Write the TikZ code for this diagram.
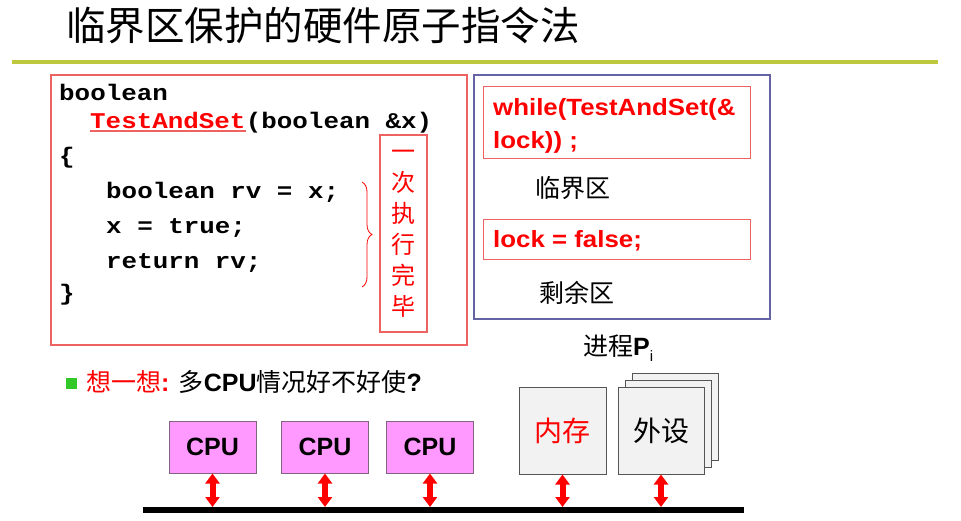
\documentclass[tikz,border=0pt]{standalone}
\usepackage{fontspec}
\setmainfont{Liberation Sans}
\newfontfamily\cjk{Noto Sans CJK SC}
\newfontfamily\codefont{Liberation Mono}[FakeStretch=1.15]
\newfontfamily\widefont{Liberation Sans}[FakeStretch=1.1]
\usepackage{tikz}
\usetikzlibrary{positioning}
\usetikzlibrary{arrows.meta}
\usetikzlibrary{decorations.pathreplacing}
\definecolor{framered}{RGB}{238,98,98}
\definecolor{frameblue}{RGB}{100,100,165}
\definecolor{rulegreen}{RGB}{190,200,62}
\definecolor{bulletgreen}{RGB}{50,200,40}
\definecolor{cpupink}{RGB}{255,153,255}
\definecolor{cpuedge}{RGB}{128,100,128}
\definecolor{memfill}{RGB}{242,242,242}
\definecolor{memedge}{RGB}{85,85,85}

\begin{document}
\begin{tikzpicture}[x=1pt, y=-1pt,
		codeline/.style={anchor=base west, inner sep=0, font=\codefont\bfseries\fontsize{22.5}{24}\selectfont},
		redcode/.style={anchor=base west, inner sep=0, text=red, font=\widefont\bfseries\fontsize{23.5}{24}\selectfont},
		redframe/.style={draw=framered, line width=1.2pt},
		zonetext/.style={inner sep=0, font=\cjk\fontsize{25}{25}\selectfont},
		cpubox/.style={draw=cpuedge, fill=cpupink, line width=1pt, minimum width=87pt, minimum height=52pt, inner sep=0, font=\bfseries\fontsize{25}{25}\selectfont},
		membox/.style={draw=memedge, fill=memfill, line width=1pt, minimum width=87pt, minimum height=87pt, inner sep=0, font=\cjk\fontsize{28}{28}\selectfont},
		busarrow/.style={draw=red, line width=6pt, shorten >=3pt, {Triangle[width=14pt,length=10pt,fill=red]}-{Triangle[width=14pt,length=10pt,fill=red]}}]
	\path[use as bounding box, fill=white] (0,0) rectangle (961,520);
	% title
	\node[anchor=base west, inner sep=0, font=\cjk\fontsize{39.5}{40}\selectfont] (title) at (66,40) {临界区保护的硬件原子指令法};
	\draw[rulegreen, line width=4pt] (12,62) -- (938,62);
	% TestAndSet
	\draw[redframe] (51,75) rectangle (467,345);
	\node[codeline] (codeA) at (59,100) {boolean};
	\node[codeline, text=red] (tas) at (90,128) {TestAndSet};
	\node[codeline] (tasArgs) at (tas.base east) {(boolean \&x)};
	\draw[framered, line width=1.3pt] ([yshift=-3pt]tas.base west) -- ([yshift=-3pt]tas.base east);
	\node[codeline] (codeB) at (59,163) {\{};
	\node[codeline] (codeC) at (106,198) {boolean rv = x;};
	\node[codeline] (codeD) at (106,233) {x = true;};
	\node[codeline] (codeE) at (106,268) {return rv;};
	\node[codeline] (codeF) at (59,300) {\}};
	\draw[red, line width=0.8pt, decorate, decoration={brace, amplitude=10pt}] (362,182) -- (362,287);
	\node[redframe, text=red, minimum width=47pt, minimum height=197pt, inner sep=0, align=center, font=\cjk\fontsize{24}{31}\selectfont] (once) at (403.5,233.5) {一\\次\\执\\行\\完\\毕};
	% process Pi
	\draw[frameblue, line width=1.2pt] (474,75) rectangle (770,319);
	\node[redframe, anchor=north west, minimum width=267pt, minimum height=72pt] (whilebox) at (483,86) {};
	\node[redcode] (whileA) at (493,115) {while(TestAndSet(\&};
	\node[redcode] (whileB) at (493,148) {lock)) ;};
	\node[zonetext] (critical) at (572.5,188) {临界区};
	\node[redframe, anchor=north west, minimum width=267pt, minimum height=40pt] (lockbox) at (483,219) {};
	\node[redcode] (unlock) at (493,247) {lock = false;};
	\node[zonetext] (remainder) at (576.5,293) {剩余区};
	\node[anchor=base west, inner sep=0, font=\fontsize{25}{25}\selectfont] (proc) at (583,355) {{\cjk 进程}\textbf{P}\raisebox{-6pt}{\fontsize{15}{15}\selectfont i}};
	% question
	\node[fill=bulletgreen, minimum size=11pt, inner sep=0] (bullet) at (71,383) {};
	\node[anchor=base west, inner sep=0, font=\fontsize{25}{25}\selectfont] (think) at (86,391) {{\cjk\color{red}想一想}\textcolor{red}{\textbf{:}} {\cjk 多}\textbf{CPU}{\cjk 情况好不好使}\textbf{?}};
	% hardware
	\node[cpubox] (cpuA) at (212.5,447) {CPU};
	\node[cpubox] (cpuB) at (325,447) {CPU};
	\node[cpubox] (cpuC) at (430,447) {CPU};
	\node[membox, text=red] (mem) at (562.5,430.5) {内存};
	\node[membox, minimum width=86pt] (periB) at (675,417) {};
	\node[membox, minimum width=86pt] (periM) at (668,424) {};
	\node[membox, minimum width=86pt] (peri) at (661,430.5) {外设};
	\coordinate (busL) at (143,510);
	\coordinate (busR) at (744,510);
	\draw[line width=6pt] (busL) -- (busR);
	\draw[busarrow] (cpuA.south) -- (cpuA.south |- busL);
	\draw[busarrow] (cpuB.south) -- (cpuB.south |- busL);
	\draw[busarrow] (cpuC.south) -- (cpuC.south |- busL);
	\draw[busarrow] (mem.south) -- (mem.south |- busL);
	\draw[busarrow] (peri.south) -- (peri.south |- busL);
\end{tikzpicture}
\end{document}
